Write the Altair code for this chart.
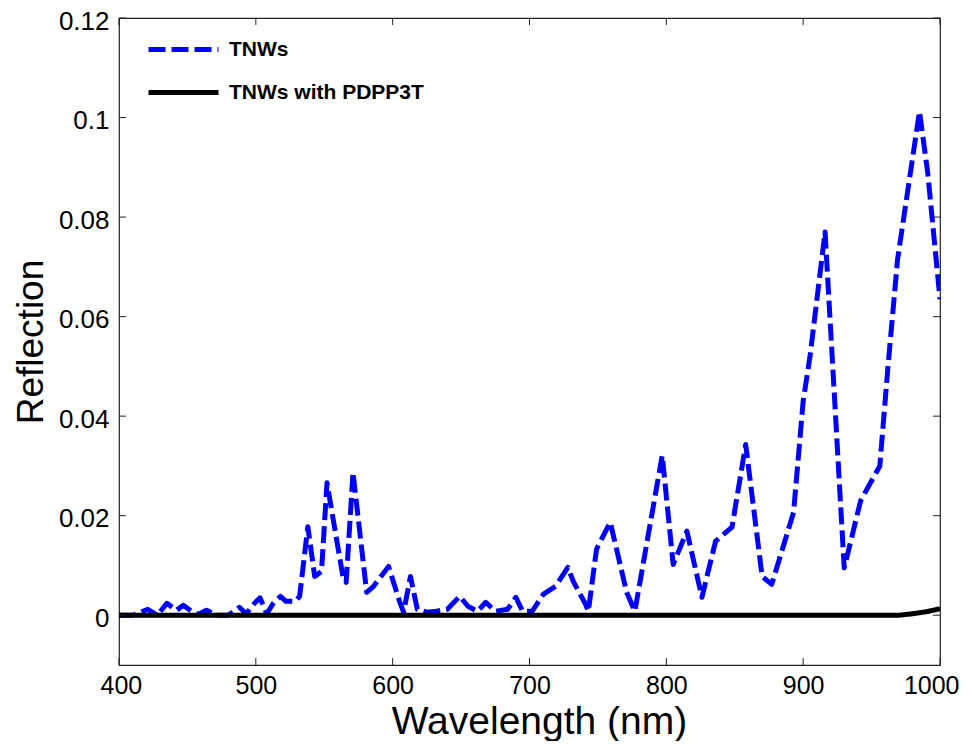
import altair as alt
import pandas as pd

# ---- data ----
tnw_wl = [400, 405, 410, 415, 421, 428, 435, 442, 447, 453, 458, 464, 471, 480,
          488, 493, 499, 503, 508, 513, 518, 522, 529, 532, 538, 543, 548, 552,
          564, 566, 571, 581, 586, 597, 605, 608, 613, 618, 625, 632, 640, 649,
          655, 662, 668, 675, 684, 690, 695, 702, 710, 719, 728, 732, 741, 743,
          749, 759, 771, 777, 797, 805, 815, 826, 836, 848, 858, 870, 877, 893,
          900, 905, 916, 930, 942, 956, 962, 969, 985, 991, 1000]
tnw_refl = [0.0, 0.0, 0.0, 0.0005, 0.0012, 0.0, 0.0024, 0.001, 0.002, 0.0008,
            0.0002, 0.001, 0.0, 0.0, 0.0016, 0.0003, 0.0024, 0.0035, 0.0003,
            0.0025, 0.0038, 0.0028, 0.0028, 0.0038, 0.0178, 0.0078, 0.0088,
            0.0266, 0.0072, 0.0066, 0.0287, 0.0046, 0.0058, 0.0098, 0.0028,
            0.0006, 0.0078, 0.0012, 0.0006, 0.0008, 0.0012, 0.0038, 0.0018,
            0.0008, 0.0026, 0.0008, 0.0012, 0.0036, 0.0008, 0.0008, 0.0042,
            0.0058, 0.0096, 0.0068, 0.0022, 0.0008, 0.0133, 0.0187, 0.0046,
            0.0008, 0.0321, 0.0102, 0.0169, 0.0036, 0.0149, 0.0177, 0.0343,
            0.0078, 0.0062, 0.0207, 0.043, 0.052, 0.077, 0.0095, 0.023, 0.030,
            0.050, 0.0715, 0.1012, 0.089, 0.0635]

pd_wl = [400, 500, 600, 700, 800, 900, 970, 980, 990, 1000]
pd_refl = [0.0, 0.0, 0.0, 0.0, 0.0, 0.0, 0.0, 0.0003, 0.0007, 0.0013]

series_names = ["TNWs", "TNWs with PDPP3T"]
series_colors = ["#0000ff", "#000000"]
series_dash = [[17, 6], [1, 0]]

x_ticks = [400, 500, 600, 700, 800, 900, 1000]
y_ticks = [0, 0.02, 0.04, 0.06, 0.08, 0.1, 0.12]

df = pd.concat([
    pd.DataFrame({"wl": tnw_wl, "r": tnw_refl, "series": series_names[0]}),
    pd.DataFrame({"wl": pd_wl, "r": pd_refl, "series": series_names[1]}),
], ignore_index=True)

W, H = 821, 647
TL = 7
FONT = "Liberation Sans, Arial, sans-serif"

xs = alt.Scale(domain=[400, 1000], nice=False, zero=False)
ys = alt.Scale(domain=[-0.01, 0.12], nice=False, zero=False)

x_axis = alt.Axis(
    values=x_ticks, format="d", tickSize=0, domain=False, grid=False,
    labelFlush=True, labelFlushOffset=19, labelOverlap=False, labelBound=False,
    labelFontSize=25, labelPadding=8, labelFont=FONT, labelColor="black",
    title="Wavelength (nm)", titleFontSize=39, titleFontWeight="normal",
    titleFont=FONT, titleColor="black", titlePadding=4, titleX=420)
y_axis = alt.Axis(
    values=y_ticks, format=".2~g", tickSize=0, domain=False, grid=False,
    labelFlush=False, labelOverlap=False, labelBound=False,
    labelBaseline="top", labelOffset=-10,
    labelFontSize=26, labelPadding=10, labelFont=FONT, labelColor="black",
    title="Reflection", titleFontSize=37, titleFontWeight="normal",
    titleFont=FONT, titleColor="black", titlePadding=8)

legend = alt.Legend(
    title=None, orient="none", legendX=27, legendY=11, padding=0,
    symbolType="stroke", symbolSize=4900, symbolStrokeWidth=5,
    labelFontSize=21, labelFontWeight="bold", labelFont=FONT,
    labelColor="black", labelLimit=400, labelOffset=8,
    clipHeight=41, rowPadding=2,
)

lines = alt.Chart(df).mark_line(strokeWidth=5, strokeCap="butt",
                                strokeJoin="round", clip=True).encode(
    x=alt.X("wl:Q", scale=xs, axis=x_axis),
    y=alt.Y("r:Q", scale=ys, axis=y_axis),
    color=alt.Color("series:N", scale=alt.Scale(domain=series_names,
                                                range=series_colors), legend=legend),
    strokeDash=alt.StrokeDash("series:N", scale=alt.Scale(domain=series_names,
                                                          range=series_dash), legend=legend),
)

xt = pd.DataFrame({"wl": x_ticks})
yt = pd.DataFrame({"r": y_ticks})
tick_color = "#222222"

bottom_ticks = alt.Chart(xt).mark_rule(color=tick_color, strokeWidth=1).encode(
    x=alt.X("wl:Q", scale=xs, axis=x_axis), y=alt.value(H), y2=alt.value(H - TL))
top_ticks = alt.Chart(xt).mark_rule(color=tick_color, strokeWidth=1).encode(
    x=alt.X("wl:Q", scale=xs, axis=x_axis), y=alt.value(0), y2=alt.value(TL))
left_ticks = alt.Chart(yt).mark_rule(color=tick_color, strokeWidth=1).encode(
    y=alt.Y("r:Q", scale=ys, axis=y_axis), x=alt.value(0), x2=alt.value(TL))
right_ticks = alt.Chart(yt).mark_rule(color=tick_color, strokeWidth=1).encode(
    y=alt.Y("r:Q", scale=ys, axis=y_axis), x=alt.value(W), x2=alt.value(W - TL))

chart = alt.layer(lines, bottom_ticks, top_ticks, left_ticks, right_ticks).properties(
    width=W, height=H,
    autosize=alt.AutoSizeParams(type="none"),
    padding={"left": 111, "top": 10, "right": 24, "bottom": 76},
    background="white",
).configure_view(stroke=tick_color, strokeWidth=1.2)

chart.save("out.html", embed_options={"renderer": "svg", "actions": False})
